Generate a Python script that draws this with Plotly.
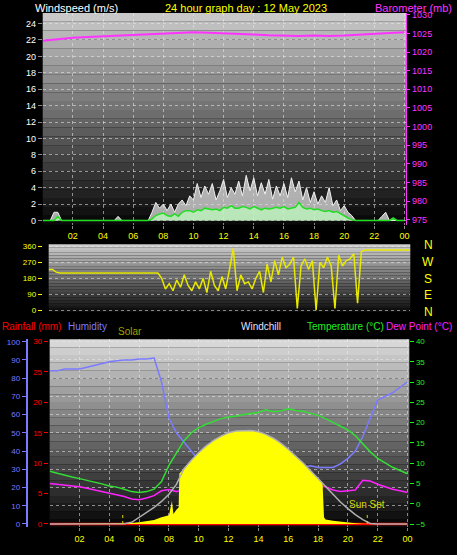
import numpy as np
import plotly.graph_objects as go

W, H = 457, 555

# ---- data ----
# wind, 15 minute samples from 00:00 to 24:00
gust = [0, 0, 0, 1.0, 1.0, 0, 0, 0] + [0] * 12 + [0.5, 0, 0, 0] + [0] * 4 + [
    0, 1.0, 2.2, 1.5, 2.0, 1.2, 2.0, 1.0, 2.0, 2.5, 1.8, 3.0, 2.5, 4.5, 2.8, 4.2,
    3.2, 4.5, 2.5, 3.6, 5.0, 2.8, 4.0, 3.2, 4.8, 3.0, 5.5, 3.6, 5.2, 3.0, 4.6, 3.2,
    5.0, 2.6, 4.2, 3.0, 4.5, 2.8, 5.2, 3.5, 4.8, 2.5, 4.0, 2.2, 3.5, 2.0, 3.0, 2.2,
    4.0, 1.8, 2.5, 1.2, 1.8, 1.0, 0.6, 0, 0, 0, 0, 0, 0, 0, 0.5, 1.0, 0, 0, 0, 0, 0]
wind_avg = [0, 0, 0, 0, 0.5, 0, 0, 0] + [0] * 20 + [
    0, 0.2, 0.6, 0.8, 0.9, 0.6, 0.5, 0.8, 0.5, 1.0, 1.2, 1.2, 1.0, 1.3, 1.2, 1.5,
    1.4, 1.3, 1.4, 1.2, 1.6, 1.5, 1.8, 1.5, 1.5, 1.7, 1.6, 1.4, 1.7, 1.5, 1.3, 1.5,
    1.4, 1.5, 1.6, 1.5, 1.7, 1.4, 1.5, 1.6, 2.2, 1.6, 1.4, 1.5, 1.3, 1.4, 1.2, 1.1,
    1.2, 1.0, 1.1, 0.8, 0.6, 0.3, 0.1, 0, 0, 0, 0, 0, 0, 0, 0, 0, 0, 0.3, 0, 0, 0]
wind_dir = [230, 230, 215, 210] + [210] * 24 + [
    210, 210, 180, 120, 150, 110, 170, 130, 200, 140, 110, 160, 120, 180, 100, 220,
    140, 110, 190, 120, 230, 350, 110, 200, 150, 160, 120, 180, 220, 100, 260, 160,
    280, 200, 300, 240, 260, 300, 10, 250, 290, 230, 280, 0, 270, 240, 300, 250,
    10, 310, 250, 280, 290, 320, 40, 330, 340, 340, 340, 340] + [340] * 13
t15 = np.arange(len(gust)) * 0.25

# hourly barometer
baro = [1023.0, 1023.5, 1023.8, 1024.0, 1024.2, 1024.3, 1024.5, 1024.7, 1025.0,
        1025.1, 1025.3, 1025.2, 1025.1, 1024.9, 1024.7, 1024.5, 1024.3, 1024.3,
        1024.4, 1024.3, 1024.4, 1024.7, 1025.0, 1025.1, 1025.3]

# half-hourly temperature, dew point, humidity
temp = [8.0, 7.5, 7.0, 6.6, 6.2, 5.8, 5.3, 4.9, 4.4, 4.1, 3.6, 3.0, 2.8, 3.0, 3.6,
        5.5, 9.5, 12.5, 15.5, 17.5, 18.8, 19.6, 20.3, 21.0, 21.4, 21.6, 22.0, 22.3,
        22.5, 23.2, 22.7, 22.9, 23.4, 23.0, 22.8, 22.3, 21.8, 21.0, 20.0, 19.2, 18.2,
        16.8, 14.8, 12.8, 11.2, 10.0, 9.0, 8.2, 7.4]
dew = [5.0, 4.8, 4.6, 4.4, 4.2, 3.8, 3.4, 3.0, 2.6, 2.2, 1.8, 1.2, 1.0, 1.4, 2.0,
       3.2, 3.5, 3.0, 3.6, 4.2, 3.5, 2.8, 2.0, 1.5, 1.8, 1.6, 1.3, 1.5, 1.8, 1.4,
       2.0, 2.6, 3.0, 5.4, 4.8, 5.0, 4.6, 4.2, 3.4, 3.0, 3.2, 3.4, 5.8, 5.6, 4.8,
       4.2, 3.6, 3.2, 2.8]
humidity = [84, 84, 85, 85, 85, 86, 87, 88, 89, 89.5, 90, 90, 90.5, 90.5, 91, 78,
            58, 50, 45, 40, 35, 33, 31, 30, 29, 28.5, 28, 27, 27, 26.5, 26.5, 26,
            28, 31, 31, 32, 31, 31, 31, 33, 36, 40, 48, 58, 68, 70, 72, 75, 78]
rain = [0] * 49
t30 = np.arange(49) * 0.5

# solar (W/m2): theoretical max and measured
solar_max = [0] * 10 + [2, 15, 60, 100, 150, 205, 270, 360, 500, 580, 650, 710, 760,
             800, 830, 845, 850, 850, 840, 815, 780, 735, 680, 620, 555, 485, 415,
             340, 270, 200, 140, 85, 40, 5, 0, 0, 0, 0, 0]
solar_t = [0, 5, 5.5, 6, 6.5, 7, 7.5, 8, 8.2, 8.3, 8.5, 8.65, 8.7, 9, 9.5, 10, 10.5,
           11, 11.5, 12, 12.5, 13, 13.5, 14, 14.5, 15, 15.5, 16, 16.5, 17, 17.5, 18,
           18.3, 18.4, 18.5, 19, 19.5, 20, 20.5, 21, 21.5, 24]
solar = [0, 2, 8, 15, 25, 35, 60, 80, 210, 90, 130, 150, 460, 500, 580, 650, 710,
         760, 800, 830, 845, 850, 850, 840, 815, 780, 735, 680, 620, 555, 485, 415,
         380, 60, 40, 30, 20, 12, 6, 3, 0, 0]
sunrise, sunset = 4.9, 21.3

hour_ticks = list(range(2, 25, 2))
hour_text = ["%02d" % (h % 24) for h in hour_ticks]

FONT = "Liberation Sans"
YEL = "#ffff00"
HUM = "#7b7bff"


def px_x(p):
    return p / W


def px_y(p):
    return 1 - p / H


fig = go.Figure()

# top panel
fig.add_trace(go.Scatter(x=t15, y=gust, xaxis="x", yaxis="y", mode="lines",
                         line=dict(color="#f0f0f0", width=1),
                         fill="tozeroy", fillcolor="rgba(225,225,225,0.75)"))
fig.add_trace(go.Scatter(x=t15, y=wind_avg, xaxis="x", yaxis="y", mode="lines",
                         line=dict(color="#22dd22", width=1.5),
                         fill="tozeroy", fillcolor="rgba(190,255,190,0.7)"))
fig.add_trace(go.Scatter(x=np.arange(25), y=baro, xaxis="x", yaxis="y2", mode="lines",
                         line=dict(color="#ff33ff", width=2)))
# middle panel
fig.add_trace(go.Scatter(x=t15, y=wind_dir, xaxis="x2", yaxis="y3", mode="lines",
                         line=dict(color="#e8e800", width=1.5)))
# bottom panel
fig.add_trace(go.Scatter(x=solar_t, y=solar, xaxis="x3", yaxis="y7", mode="lines",
                         line=dict(color=YEL, width=0), fill="tozeroy",
                         fillcolor=YEL))
fig.add_trace(go.Scatter(x=t30, y=solar_max, xaxis="x3", yaxis="y7", mode="lines",
                         line=dict(color="#b0b0b0", width=1.5)))
fig.add_trace(go.Scatter(x=t30, y=humidity, xaxis="x3", yaxis="y4", mode="lines",
                         line=dict(color=HUM, width=1.5)))
fig.add_trace(go.Scatter(x=t30, y=temp, xaxis="x3", yaxis="y6", mode="lines",
                         line=dict(color="#33dd33", width=1.5)))
fig.add_trace(go.Scatter(x=t30, y=dew, xaxis="x3", yaxis="y6", mode="lines",
                         line=dict(color="#ff22ff", width=1.5)))
fig.add_trace(go.Scatter(x=t30, y=rain, xaxis="x3", yaxis="y5", mode="lines",
                         line=dict(color="#ff0000", width=2.5)))
for s in (sunrise, sunset):
    fig.add_trace(go.Scatter(x=[s, s], y=[0, 90], xaxis="x3", yaxis="y7", mode="lines",
                             line=dict(color="#d8d800", width=1, dash="dot")))

# gradient backgrounds
shapes = []
panels = [("x", "y", 200, 10), ("x2", "y3", 205, 15), ("x3", "y4", 215, 10)]
n = 24
for xa, ya, top, bot in panels:
    for i in range(n):
        c = int(top + (bot - top) * i / (n - 1))
        shapes.append(dict(type="rect", xref=xa + " domain", yref=ya + " domain",
                           x0=0, x1=1, y0=1 - (i + 1) / n, y1=1 - i / n,
                           fillcolor="rgb(%d,%d,%d)" % (c, c, c), line_width=0,
                           layer="below"))

grid = dict(showgrid=True, gridcolor="rgba(235,235,235,0.55)", griddash="dot",
            gridwidth=1, zeroline=False)
xcommon = dict(range=[0, 24.12], tickvals=hour_ticks, ticktext=hour_text,
               tickfont=dict(color=YEL, size=9), ticks="outside", ticklen=3,
               tickcolor="#888", **grid)


def ticks_font(c, s=9):
    return dict(color=c, size=s)


annotations = [
    dict(text="Windspeed (m/s)", x=px_x(33), y=px_y(5), xanchor="left",
         font=dict(color="white", size=11)),
    dict(text="24 hour graph day : 12 May 2023", x=px_x(248), y=px_y(5),
         xanchor="center", font=dict(color=YEL, size=11)),
    dict(text="Barometer (mb)", x=px_x(457), y=px_y(5), xanchor="right",
         font=dict(color="#ff33ff", size=11)),
    dict(text="Rainfall (mm)", x=0, y=px_y(327), xanchor="left",
         font=dict(color="#ff0000", size=10)),
    dict(text="Humidity", x=px_x(66), y=px_y(327), xanchor="left",
         font=dict(color=HUM, size=10)),
    dict(text="Solar", x=px_x(117), y=px_y(332), xanchor="left",
         font=dict(color="#a0a000", size=10)),
    dict(text="Windchill", x=px_x(241), y=px_y(327), xanchor="left",
         font=dict(color="#e0e0ff", size=10)),
    dict(text="Temperature (°C)", x=px_x(307), y=px_y(327), xanchor="left",
         font=dict(color="#22ee22", size=10)),
    dict(text="Dew Point (°C)", x=px_x(457), y=px_y(327), xanchor="right",
         font=dict(color="#ff22ff", size=10)),
    dict(text="Sun Set", x=sunset, y=10.5, xref="x3", yref="y4", xanchor="center",
         yanchor="middle", showarrow=False, font=dict(color="#d8d800", size=10)),
]
for i, lab in enumerate(["N", "W", "S", "E", "N"]):
    annotations.append(dict(text=lab, x=px_x(431), y=px_y(245 + 16.8 * i),
                            xanchor="center", font=dict(color=YEL, size=12)))
for a in annotations:
    a.setdefault("xref", "paper")
    a.setdefault("yref", "paper")
    a.setdefault("yanchor", "middle")
    a.setdefault("showarrow", False)

fig.update_layout(
    width=W, height=H, margin=dict(l=0, r=0, t=0, b=0),
    paper_bgcolor="black", plot_bgcolor="black", showlegend=False,
    font=dict(family=FONT, color="white"),
    shapes=shapes, annotations=annotations,
    xaxis=dict(domain=[px_x(43), px_x(409)], anchor="y", **xcommon),
    yaxis=dict(domain=[px_y(224), px_y(10)], range=[-0.5, 25.3], dtick=2,
               tickfont=ticks_font("white"), ticks="outside", ticklen=4,
               tickcolor="#888", **grid),
    yaxis2=dict(overlaying="y", side="right", anchor="x", range=[973.7, 1030.5],
                dtick=5, tickfont=ticks_font("#ff33ff"), ticks="outside", ticklen=3,
                tickcolor="#ff33ff", showline=True, linecolor="#ff33ff",
                showgrid=False, zeroline=False),
    xaxis2=dict(domain=[px_x(49), px_x(413)], anchor="y3", range=[0, 24],
                showticklabels=False, showgrid=False, zeroline=False),
    yaxis3=dict(domain=[px_y(312), px_y(244)], range=[-8, 372],
                tickvals=[0, 90, 180, 270, 360], tickfont=ticks_font(YEL, 8),
                ticks="outside", ticklen=4, tickcolor=YEL, **grid),
    xaxis3=dict(domain=[px_x(50), px_x(412)], anchor="y4", **xcommon),
    yaxis4=dict(domain=[px_y(530), px_y(340)], range=[-1.8, 101.3], dtick=10,
                anchor="free", position=px_x(27), side="left",
                tickfont=ticks_font(HUM, 8), ticks="outside", ticklen=4,
                tickcolor=HUM, showline=True, linecolor=HUM, linewidth=2, **grid),
    yaxis5=dict(overlaying="y4", anchor="free", position=px_x(48), side="left",
                range=[-0.54, 30.37], dtick=5, tickfont=ticks_font("#ff0000", 8),
                ticks="outside", ticklen=4, tickcolor="#ff0000", showline=False,
                showgrid=False, zeroline=False),
    yaxis6=dict(overlaying="y4", anchor="x3", side="right", range=[-5.8, 40.56],
                dtick=5, tickfont=ticks_font("#22ee22", 8), ticks="outside",
                ticklen=4, tickcolor="#22ee22", showgrid=False, zeroline=False),
    yaxis7=dict(overlaying="y4", anchor="x3", range=[-30, 1680], visible=False),
)

fig.write_html("out.html", config={"displayModeBar": False},
               post_script="document.body.style.margin='0';"
                           "document.body.style.overflow='hidden';")
